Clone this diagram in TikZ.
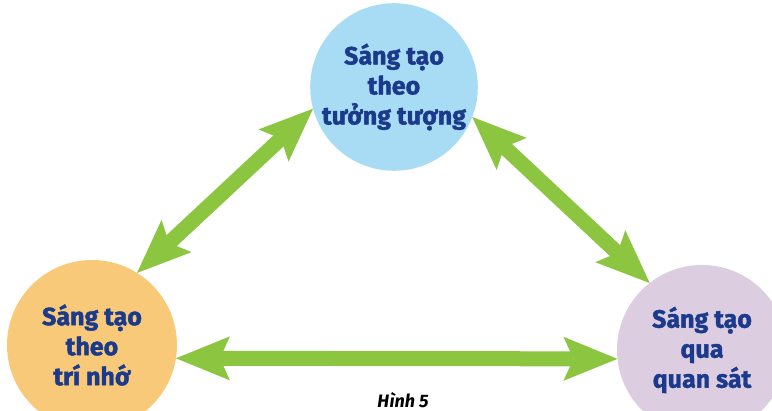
\documentclass[tikz,border=0pt]{standalone}
\usepackage{fontspec}
\setmainfont{Fira Sans}[BoldFeatures={FakeBold=1.6}]
\usetikzlibrary{arrows.meta}
\definecolor{cOrange}{HTML}{F9C97A}
\definecolor{cBlue}{HTML}{A8DCF4}
\definecolor{cLav}{HTML}{DCCDE0}
\definecolor{cNavy}{HTML}{1B3A8C}
\definecolor{cGreen}{HTML}{8CC540}
\begin{document}
\begin{tikzpicture}[x=1pt,y=-1pt,
  bubble/.style={circle, minimum size=170pt, inner sep=0pt, outer sep=0pt,
    font=\fontsize{25}{30}\selectfont\bfseries, text=cNavy, align=center},
  link/.style={draw=cGreen, line width=15pt,
    {Stealth[length=54pt,width=44pt,inset=10pt,line width=0pt]}-{Stealth[length=54pt,width=44pt,inset=10pt,line width=0pt]}}]
\useasboundingbox (0,0) rectangle (772,411);
\clip (0,0) rectangle (772,411);
\node[bubble, fill=cBlue, minimum size=166pt] (T) at (394,87) {Sáng tạo\\theo\\tưởng tượng};
\node[bubble, fill=cOrange] (L) at (92,345) {Sáng tạo\\theo\\trí nhớ};
\node[bubble, fill=cLav] (R) at (702,350) {Sáng tạo\\qua\\quan sát};
\draw[link] (L.58) -- (T.195);
\draw[link] (T.-21) -- (R.128);
\draw[link] (L.-9) -- (R.186);
\node[font=\fontsize{18}{20}\selectfont\bfseries\itshape] (cap) at (403,400) {Hình 5};
\end{tikzpicture}
\end{document}
